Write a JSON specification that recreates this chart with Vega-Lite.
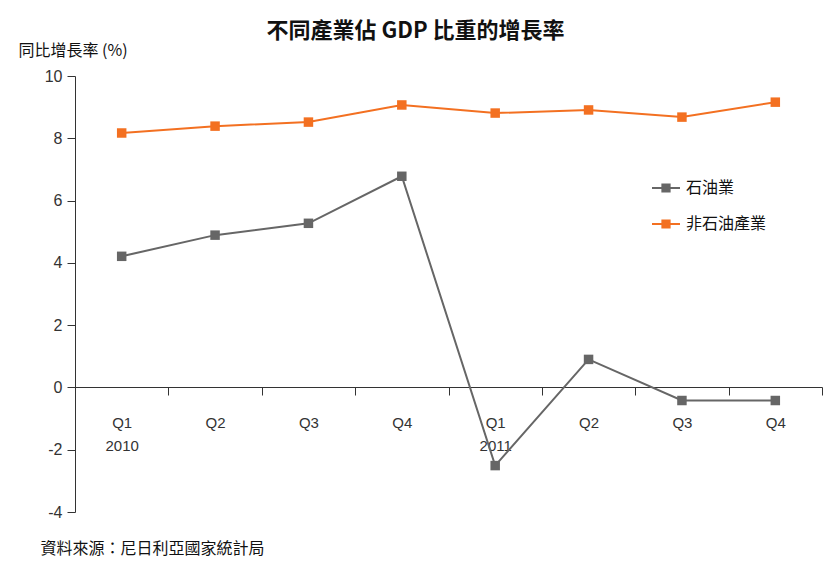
{
  "$schema": "https://vega.github.io/schema/vega-lite/v6.json",
  "width": 747,
  "height": 436,
  "autosize": {"type": "none"},
  "padding": {"left": 75, "top": 76, "right": 10, "bottom": 61},
  "background": "white",
  "config": {
    "font": "Liberation Sans, Noto Sans CJK TC",
    "view": {"stroke": null}
  },
  "title": {
    "text": "不同產業佔 GDP 比重的增長率",
    "fontSize": 22,
    "fontWeight": "bold",
    "color": "#111111",
    "font": "Noto Sans CJK TC",
    "anchor": "middle",
    "dx": -33,
    "offset": -1
  },
  "data": {
    "values": [
      {"q": "2010 Q1", "series": "石油業", "v": 4.21},
      {"q": "2010 Q2", "series": "石油業", "v": 4.89},
      {"q": "2010 Q3", "series": "石油業", "v": 5.27},
      {"q": "2010 Q4", "series": "石油業", "v": 6.78},
      {"q": "2011 Q1", "series": "石油業", "v": -2.51},
      {"q": "2011 Q2", "series": "石油業", "v": 0.9},
      {"q": "2011 Q3", "series": "石油業", "v": -0.42},
      {"q": "2011 Q4", "series": "石油業", "v": -0.42},
      {"q": "2010 Q1", "series": "非石油產業", "v": 8.17},
      {"q": "2010 Q2", "series": "非石油產業", "v": 8.39},
      {"q": "2010 Q3", "series": "非石油產業", "v": 8.52},
      {"q": "2010 Q4", "series": "非石油產業", "v": 9.07},
      {"q": "2011 Q1", "series": "非石油產業", "v": 8.81},
      {"q": "2011 Q2", "series": "非石油產業", "v": 8.91},
      {"q": "2011 Q3", "series": "非石油產業", "v": 8.68},
      {"q": "2011 Q4", "series": "非石油產業", "v": 9.16}
    ]
  },
  "encoding": {
    "x": {
      "field": "q",
      "type": "ordinal",
      "scale": {"paddingInner": 0, "paddingOuter": 0},
      "axis": {
        "orient": "bottom",
        "offset": -125,
        "labelAngle": 0,
        "tickBand": "extent",
        "domainColor": "#333333",
        "tickColor": "#333333",
        "tickSize": 8,
        "labelPadding": 20,
        "labelFontSize": 15,
        "labelColor": "#333333",
        "labelLineHeight": 23,
        "labelBaseline": "top",
        "labelExpr": "datum.value == '2010 Q1' ? ['Q1', '2010'] : datum.value == '2011 Q1' ? ['Q1', '2011'] : split(datum.value, ' ')[1]",
        "title": "資料來源：尼日利亞國家統計局",
        "titleFont": "Noto Sans CJK TC",
        "titleFontSize": 16,
        "titleFontWeight": "normal",
        "titleColor": "#111111",
        "titleAnchor": "start",
        "titleAlign": "left",
        "titleBaseline": "middle",
        "titleX": -35,
        "titleY": 161
      }
    },
    "y": {
      "field": "v",
      "type": "quantitative",
      "scale": {"domain": [-4, 10], "nice": false, "zero": false},
      "axis": {
        "values": [-4, -2, 0, 2, 4, 6, 8, 10],
        "labelExpr": "toString(datum.value)",
        "grid": false,
        "domainColor": "#333333",
        "tickColor": "#333333",
        "tickSize": 8,
        "labelFontSize": 16,
        "labelColor": "#333333",
        "labelPadding": 5,
        "title": "同比增長率 (%)",
        "titleFont": "Noto Sans CJK TC",
        "titleFontSize": 16,
        "titleFontWeight": "normal",
        "titleColor": "#111111",
        "titleAngle": 0,
        "titleAlign": "left",
        "titleBaseline": "middle",
        "titleX": -57,
        "titleY": -26
      }
    },
    "color": {
      "field": "series",
      "type": "nominal",
      "scale": {"domain": ["石油業", "非石油產業"], "range": ["#666666", "#F37021"]},
      "legend": {
        "title": null,
        "orient": "none",
        "legendX": 577,
        "legendY": 98,
        "symbolType": "M-1,-0.07H1V0.07H-1Z M-0.33,-0.33H0.33V0.33H-0.33Z",
        "symbolSize": 784,
        "symbolStrokeWidth": 0,
        "symbolOpacity": 1,
        "rowPadding": 14,
        "labelFont": "Noto Sans CJK TC",
        "labelFontSize": 16,
        "labelColor": "#111111",
        "labelOffset": 6,
        "padding": 0
      }
    }
  },
  "layer": [
    {"mark": {"type": "line", "strokeWidth": 2}},
    {"mark": {"type": "point", "shape": "square", "filled": true, "size": 90, "opacity": 1}}
  ]
}
